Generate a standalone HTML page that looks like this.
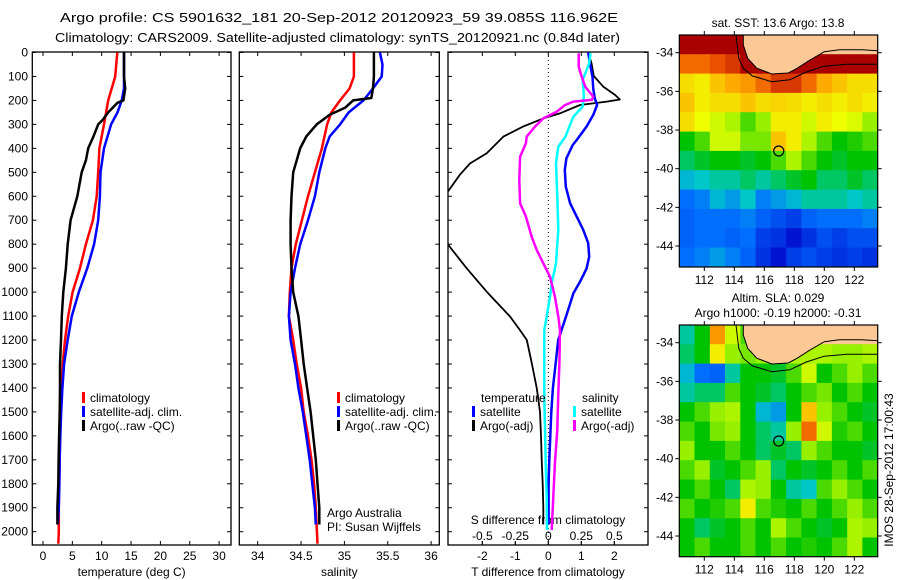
<!DOCTYPE html>
<html><head><meta charset="utf-8"><title>Argo profile</title>
<style>
html,body{margin:0;padding:0;background:#fff;}
svg{display:block;font-family:"Liberation Sans",Arial,sans-serif;}
</style></head>
<body>
<svg id="fig" width="900" height="580" viewBox="0 0 900 580" xmlns="http://www.w3.org/2000/svg">
<rect width="900" height="580" fill="#fff"/>
<text x="60" y="22" font-size="13" textLength="558" lengthAdjust="spacingAndGlyphs">Argo profile: CS 5901632_181 20-Sep-2012 20120923_59 39.085S 116.962E</text>
<text x="55" y="42" font-size="13" textLength="565" lengthAdjust="spacingAndGlyphs">Climatology: CARS2009. Satellite-adjusted climatology: synTS_20120921.nc (0.84d later)</text>
<g id="g"></g>
</svg>
<script>
// ---------------- DATA ----------------
const depthTicks=[0,100,200,300,400,500,600,700,800,900,1000,1100,1200,1300,1400,1500,1600,1700,1800,1900,2000];
const tempTicks=[0,5,10,15,20,25,30];
const salTicks=[34,34.5,35,35.5,36];
const salTickLabels=["34","34.5","35","35.5","36"];
const tdiffTicks=[-2,-1,0,1,2];
const sdiffTicks=[-0.5,-0.25,0,0.25,0.5];
const sdiffTickLabels=["-0.5","-0.25","0","0.25","0.5"];

const tClimDepth=[0,100,200,300,400,500,600,700,800,900,1000,1100,1200,1300,1400,1500,1600,1700,1800,1900,2000,2050];
const tClimVal=[12.66,12.3,11.1,10.4,9.6,9.4,9.15,8.5,7.3,6.3,5.05,4.3,3.75,3.35,3.2,3.0,2.9,2.85,2.75,2.7,2.7,2.6];
const tSatDepth=[0,100,150,200,250,300,400,500,600,700,800,900,1000,1100,1200,1300,1400,1500,1600,1700,1800,1900,1970];
const tSatVal=[13.8,13.8,13.8,13.4,12.7,11.6,10.4,9.8,9.7,9.4,8.7,7.55,6.1,4.9,4.2,3.6,3.3,3.1,2.95,2.85,2.8,2.7,2.5];
const tArgoDepth=[0,100,150,200,210,250,280,300,350,400,450,500,600,700,800,900,1000,1100,1200,1300,1400,1500,1600,1700,1800,1900,1970];
const tArgoVal=[13.8,13.8,14.0,13.7,12.7,11.1,10.2,9.4,8.6,7.7,7.3,6.6,5.85,4.7,4.2,3.9,3.45,3.2,3.07,2.9,2.9,2.85,2.75,2.65,2.6,2.45,2.45];

const sClimDepth=[0,100,150,200,250,300,400,500,600,700,800,900,1000,1100,1200,1300,1400,1500,1600,1700,1800,1900,2050];
const sClimVal=[35.11,35.11,35.06,34.95,34.85,34.8,34.74,34.66,34.58,34.51,34.44,34.39,34.37,34.36,34.41,34.45,34.5,34.53,34.58,34.62,34.65,34.67,34.69];
const sSatDepth=[0,50,100,150,200,250,300,350,400,500,600,700,800,900,1000,1100,1200,1300,1400,1500,1600,1700,1800,1900,1970];
const sSatVal=[35.41,35.44,35.43,35.33,35.22,35.05,34.95,34.83,34.78,34.71,34.66,34.58,34.49,34.43,34.38,34.36,34.38,34.43,34.47,34.52,34.56,34.6,34.63,34.66,34.67];
const sArgoDepth=[0,100,150,190,200,230,260,300,350,400,450,500,600,700,800,900,1000,1100,1200,1300,1400,1500,1600,1700,1800,1900,1970];
const sArgoVal=[35.34,35.34,35.33,35.31,35.1,35.01,34.83,34.68,34.56,34.49,34.45,34.41,34.39,34.38,34.38,34.39,34.41,34.47,34.5,34.53,34.57,34.61,34.64,34.67,34.69,34.71,34.71];

const dTSatDepth=[0,45,101,150,191,219,261,309,365,386,442,490,560,629,685,741,796,852,901,957,1005,1075,1130,1200,1300,1400,1500,1600,1700,1800,1970];
const dTSatVal=[1.21,1.26,1.34,1.36,1.41,1.48,1.36,1.16,0.86,0.74,0.55,0.5,0.53,0.66,0.86,1.06,1.21,1.24,1.16,0.96,0.76,0.6,0.47,0.3,0.22,0.14,0.09,0.06,0.03,0.01,0.01];
const dTArgoDepth=[0,45,98,143,177,196,205,219,254,275,309,351,421,463,510,578,700,803,901,998,1102,1158,1200,1297,1402,1499,1600,1700,1800,1896,1970];
const dTArgoVal=[1.21,1.31,1.38,1.67,2.02,2.17,1.77,0.96,0.35,-0.15,-0.76,-1.36,-1.87,-2.37,-2.68,-3.03,-4.0,-3.03,-2.47,-1.87,-1.16,-0.86,-0.65,-0.5,-0.35,-0.25,-0.22,-0.2,-0.17,-0.15,-0.15];
const dSSatDepth=[3,45,87,115,150,184,226,268,309,351,393,463,602,741,880,963,1019,1102,1158,1297,1436,1575,1714,1854,1993];
const dSSatVal=[0.32,0.31,0.28,0.26,0.265,0.27,0.26,0.19,0.16,0.13,0.076,0.058,0.068,0.076,0.058,0.026,0.013,-0.012,-0.03,-0.03,-0.03,-0.025,-0.02,-0.012,-0.01];
const dSArgoDepth=[3,59,87,143,184,198,205,219,247,275,309,351,379,435,532,630,685,769,824,880,936,1019,1102,1158,1297,1436,1575,1714,1854,1993];
const dSArgoVal=[0.23,0.23,0.245,0.28,0.34,0.33,0.19,0.127,0.064,-0.038,-0.1,-0.164,-0.17,-0.214,-0.22,-0.214,-0.17,-0.126,-0.088,-0.038,0.013,0.05,0.076,0.089,0.084,0.075,0.068,0.05,0.038,0.026];

const lonTicks=[112,114,116,118,120,122];
const latTicks=[-34,-36,-38,-40,-42,-44];
const argoLon=116.962, argoLat=-39.085;
const sstTitle="sat. SST: 13.6 Argo: 13.8";
const L=-1;
const sstGrid=[
[0.95,0.95,0.95,0.95,0.95,L,L,L,L,L,L,L,L],
[0.85,0.85,0.88,0.9,0.95,0.95,0.95,0.95,0.95,0.95,0.95,0.95,0.95],
[0.72,0.7,0.75,0.78,0.8,0.85,0.9,0.9,0.85,0.78,0.75,0.72,0.72],
[0.75,0.7,0.72,0.72,0.75,0.72,0.73,0.72,0.7,0.72,0.7,0.72,0.7],
[0.72,0.68,0.65,0.62,0.55,0.6,0.7,0.7,0.65,0.7,0.68,0.66,0.6],
[0.5,0.55,0.65,0.65,0.58,0.58,0.75,0.7,0.62,0.55,0.5,0.52,0.55],
[0.45,0.48,0.5,0.5,0.48,0.5,0.55,0.62,0.55,0.5,0.48,0.5,0.5],
[0.38,0.4,0.42,0.42,0.45,0.42,0.45,0.48,0.5,0.45,0.45,0.48,0.45],
[0.3,0.32,0.38,0.35,0.4,0.32,0.35,0.38,0.42,0.42,0.42,0.4,0.42],
[0.28,0.3,0.3,0.3,0.32,0.28,0.25,0.22,0.28,0.3,0.3,0.3,0.32],
[0.28,0.3,0.3,0.28,0.3,0.22,0.2,0.15,0.2,0.25,0.22,0.25,0.25],
[0.3,0.32,0.35,0.32,0.28,0.2,0.15,0.22,0.25,0.22,0.2,0.22,0.2]];
const slaGrid=[
[0.42,0.5,0.8,0.65,0.55,L,L,L,L,L,L,L,L],
[0.45,0.5,0.7,0.6,0.58,0.6,0.62,0.62,0.62,0.62,0.6,0.6,0.62],
[0.38,0.3,0.28,0.42,0.5,0.5,0.48,0.55,0.65,0.5,0.55,0.6,0.55],
[0.42,0.45,0.45,0.55,0.5,0.48,0.45,0.5,0.55,0.58,0.5,0.55,0.5],
[0.5,0.55,0.6,0.62,0.5,0.38,0.35,0.5,0.75,0.6,0.55,0.5,0.48],
[0.55,0.5,0.58,0.6,0.5,0.45,0.42,0.6,0.85,0.65,0.52,0.55,0.5],
[0.6,0.5,0.5,0.55,0.5,0.45,0.48,0.45,0.6,0.55,0.5,0.5,0.48],
[0.55,0.6,0.48,0.5,0.55,0.6,0.45,0.5,0.48,0.5,0.55,0.5,0.55],
[0.5,0.55,0.5,0.45,0.62,0.6,0.5,0.42,0.4,0.55,0.6,0.55,0.5],
[0.55,0.5,0.52,0.55,0.7,0.55,0.52,0.5,0.55,0.5,0.55,0.6,0.55],
[0.5,0.45,0.48,0.5,0.55,0.5,0.62,0.55,0.5,0.48,0.5,0.62,0.6],
[0.5,0.55,0.5,0.5,0.55,0.5,0.55,0.5,0.52,0.5,0.55,0.62,0.5]];
const landLon=[114.6,114.6,114.9,115.5,116.5,117.6,118.2,119,120,121,122.5,123.6,123.6];
const landLat=[-33.0,-33.6,-34.3,-34.8,-35.1,-35.05,-34.8,-34.4,-33.95,-33.85,-33.85,-33.9,-33.0];
const contLon=[114.1,114.3,114.6,115.2,116.5,117.7,118.8,120,121.5,123.6];
const contLat=[-33.0,-34.3,-34.8,-35.2,-35.5,-35.4,-35.0,-34.7,-34.6,-34.6];

// ---------------- DRAW ----------------
const NS="http://www.w3.org/2000/svg";
const G=document.getElementById('g');
function mk(tag,attrs,parent){const e=document.createElementNS(NS,tag);for(const k in attrs)e.setAttribute(k,attrs[k]);(parent||G).appendChild(e);return e;}
function txt(x,y,s,size,anchor,parent){const t=mk('text',{x:x,y:y,'font-size':size,'text-anchor':anchor||'middle'},parent);t.textContent=s;return t;}

const yD=d=>52.5+d*0.2396;
const PT=52, PB=545;
const xT=v=>43+v*5.87;
const xS=v=>257.7+(v-34)*86.7;
const xdT=v=>548.3+v*33;
const xdS=v=>548.3+v*132;

function clip(id,x0,x1){const c=mk('clipPath',{id:id});mk('rect',{x:x0,y:PT,width:x1-x0,height:PB-PT},c);}
clip('cp1',32.3,231);clip('cp2',239.3,439.3);clip('cp3',448,648);

function panel(name,x0,x1,xf,ticks,labels,xlabel){
  const g=mk('g',{});
  
  
  const fr=mk('rect',{x:x0,y:PT,width:x1-x0,height:PB-PT,fill:'none',stroke:'#000','stroke-width':1.3},g);
  
  
  depthTicks.forEach(d=>{const y=yD(d);mk('line',{x1:x0,y1:y,x2:x0+4,y2:y,stroke:'#000'},g);mk('line',{x1:x1,y1:y,x2:x1-4,y2:y,stroke:'#000'},g);});
  ticks.forEach((v,i)=>{const x=xf(v);mk('line',{x1:x,y1:PT,x2:x,y2:PT+4,stroke:'#000'},g);mk('line',{x1:x,y1:PB,x2:x,y2:PB-4,stroke:'#000'},g);
    const t=txt(x,560,labels[i],12,'middle',g);});
  const xl=txt((x0+x1)/2,576,xlabel,12,'middle',g);
  
  
  return g;
}
panel('temperature-panel',32.3,231,xT,tempTicks,tempTicks.map(String),'temperature (deg C)');
panel('salinity-panel',239.3,439.3,xS,salTicks,salTickLabels,'salinity');
panel('difference-panel',448,648,xdT,tdiffTicks,tdiffTicks.map(String),'T difference from climatology');

depthTicks.forEach(d=>{const t=txt(28,yD(d)+4,String(d),12,'end');});

const z=mk('line',{x1:xdT(0),y1:PT,x2:xdT(0),y2:PB,stroke:'#000','stroke-dasharray':'1,3'});


sdiffTicks.forEach((v,i)=>{const x=xdS(v);mk('line',{x1:x,y1:PB,x2:x,y2:PB-4,stroke:'#000'});
 const t=txt(x,540,sdiffTickLabels[i],12,'middle');});
const sdt=txt(548,524,'S difference from climatology',12,'middle');



function series(name,depths,vals,xf,color,w,clipId){
  const pts=depths.map((d,i)=>xf(vals[i]).toFixed(1)+','+yD(d).toFixed(1)).join(' ');
  const e=mk('polyline',{points:pts,fill:'none',stroke:color,'stroke-width':w,'clip-path':'url(#'+clipId+')','stroke-linejoin':'round'});
  
  
}
series('temp-climatology-line',tClimDepth,tClimVal,xT,'#f00',2.5,'cp1');
series('temp-satellite-line',tSatDepth,tSatVal,xT,'#00f',2.5,'cp1');
series('temp-argo-line',tArgoDepth,tArgoVal,xT,'#000',2.5,'cp1');
series('sal-climatology-line',sClimDepth,sClimVal,xS,'#f00',2.5,'cp2');
series('sal-satellite-line',sSatDepth,sSatVal,xS,'#00f',2.5,'cp2');
series('sal-argo-line',sArgoDepth,sArgoVal,xS,'#000',2.5,'cp2');
series('tdiff-argo-line',dTArgoDepth,dTArgoVal,xdT,'#000',1.8,'cp3');
series('tdiff-satellite-line',dTSatDepth,dTSatVal,xdT,'#00f',2.5,'cp3');
series('sdiff-satellite-line',dSSatDepth,dSSatVal,xdS,'#0ff',2.5,'cp3');
series('sdiff-argo-line',dSArgoDepth,dSArgoVal,xdS,'#f0f',2.5,'cp3');

function legItem(x,y,color,label){
  const g=mk('g',{});
  
  
  mk('rect',{x:x,y:y-10,width:3,height:11,fill:color},g);
  txt(x+8,y,label,12,'start',g);
}
[[82,402,'#f00','climatology'],[82,416,'#00f','satellite-adj. clim.'],[82,430,'#000','Argo(..raw -QC)']].forEach(a=>legItem(...a));
[[337,402,'#f00','climatology'],[337,416,'#00f','satellite-adj. clim.'],[337,430,'#000','Argo(..raw -QC)']].forEach(a=>legItem(...a));
const lt=txt(481,402,'temperature',12,'start');
const ls=txt(582,402,'salinity',12,'start');
[[472,416,'#00f','satellite'],[472,430,'#000','Argo(-adj)'],[573,416,'#0ff','satellite'],[573,430,'#f0f','Argo(-adj)']].forEach(a=>legItem(...a));
const pi1=txt(327,517,'Argo Australia',12,'start');
const pi2=txt(327,531,'PI: Susan Wijffels',12,'start');

// ---------------- MAPS ----------------
const stops=[[0,[0,0,130]],[0.15,[0,20,210]],[0.3,[0,110,255]],[0.4,[0,200,200]],[0.5,[0,195,0]],[0.6,[150,240,0]],[0.68,[240,255,0]],[0.78,[255,170,0]],[0.88,[235,80,0]],[0.95,[170,0,0]],[1,[150,0,0]]];
function cmap(v){for(let i=1;i<stops.length;i++){if(v<=stops[i][0]){const a=stops[i-1],b=stops[i];const t=(v-a[0])/(b[0]-a[0]);const c=a[1].map((q,k)=>Math.round(q+(b[1][k]-q)*t));return 'rgb('+c.join(',')+')';}}return 'rgb(150,0,0)';}
const MX0=679.3,MX1=877.7;
const lonX=lon=>704.3+(lon-112)*15;
function drawMap(name,top,bottom,lat34y,grid,clipId){
  const latY=lat=>lat34y+(-34-lat)*19.33;
  const g=mk('g',{});
  
  
  const c=mk('clipPath',{id:clipId});mk('rect',{x:MX0,y:top,width:MX1-MX0,height:bottom-top},c);
  const cells=mk('g',{'clip-path':'url(#'+clipId+')'},g);
  const lon0=110.33, lat0=-33.08, nr=grid.length, nc=grid[0].length;
  const dLat=(45.08-33.08)/nr, dLon=(123.56-110.33)/nc;
  grid.forEach((row,i)=>row.forEach((v,j)=>{
    const x=lonX(lon0+j*dLon), y=latY(lat0-i*dLat);
    const r=mk('rect',{x:x.toFixed(1),y:y.toFixed(1),width:(dLon*15+0.6).toFixed(1),height:(dLat*19.33+0.6).toFixed(1),fill:v<0?'#fcc996':cmap(v)},cells);
    
    
  }));
  const land=mk('polygon',{points:landLon.map((l,i)=>lonX(l).toFixed(1)+','+latY(landLat[i]).toFixed(1)).join(' '),fill:'#fcc996',stroke:'#000','stroke-width':1},cells);
  
  
  const cont=mk('polyline',{points:contLon.map((l,i)=>lonX(l).toFixed(1)+','+latY(contLat[i]).toFixed(1)).join(' '),fill:'none',stroke:'#000','stroke-width':1},cells);
  
  
  const fr=mk('rect',{x:MX0,y:top,width:MX1-MX0,height:bottom-top,fill:'none',stroke:'#000','stroke-width':1.2},g);
  
  
  lonTicks.forEach(l=>{const x=lonX(l);mk('line',{x1:x,y1:top,x2:x,y2:top-4,stroke:'#000'},g);mk('line',{x1:x,y1:bottom,x2:x,y2:bottom+4,stroke:'#000'},g);
    const t=txt(x,bottom+17,String(l),12,'middle',g);});
  latTicks.forEach(l=>{const y=latY(l);mk('line',{x1:MX0,y1:y,x2:MX0-4,y2:y,stroke:'#000'},g);mk('line',{x1:MX1,y1:y,x2:MX1+4,y2:y,stroke:'#000'},g);
    const t=txt(MX0-6,y+4,String(l),12,'end',g);});
  const m=mk('circle',{cx:lonX(argoLon),cy:latY(argoLat),r:5,fill:'none',stroke:'#000','stroke-width':1.2},g);
  
  
}
drawMap('sst-map',35,267,52.7,sstGrid,'cm1');
drawMap('sla-map',325,556.7,342.7,slaGrid,'cm2');
const t1=txt(778,27,sstTitle,12,'middle');
const t2=txt(778,302,'Altim. SLA: 0.029',12,'middle');
const t3=txt(778,317,'Argo h1000: -0.19 h2000: -0.31',12,'middle');
const im=txt(0,0,'IMOS 28-Sep-2012 17:00:43',12,'middle');
im.setAttribute('transform','translate(893,470) rotate(-90)');


</script>
</body></html>
